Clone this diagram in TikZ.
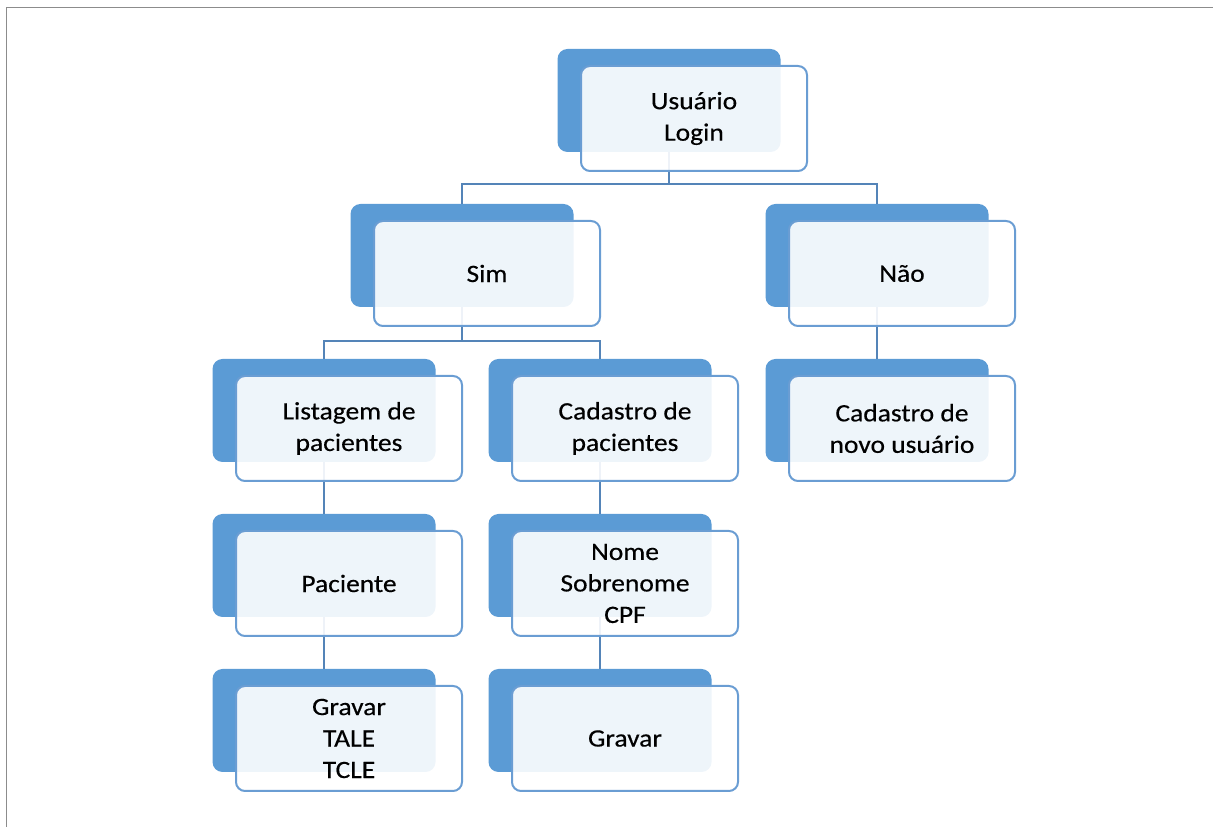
\documentclass[tikz,border=0pt]{standalone}
\usepackage{fontspec}
\setmainfont{Carlito}[FakeStretch=1.1, FakeBold=0.4]
\usepackage{tikz}
\usetikzlibrary{positioning, backgrounds}

\definecolor{backblue}{HTML}{5B9BD5}
\definecolor{edgeblue}{HTML}{6A9DD3}
\definecolor{linkblue}{HTML}{5484B8}
\definecolor{framegray}{HTML}{8C8C8C}

\begin{document}
\begin{tikzpicture}[x=1pt, y=1pt, node distance=155pt, on grid,
  front/.style={draw=edgeblue, line width=2pt, rounded corners=9pt,
    fill=white, fill opacity=0.9, text opacity=1, text=black,
    minimum width=226pt, minimum height=105pt, align=center,
    font=\fontsize{25}{31.5}\selectfont},
  back/.style={fill=backblue, rounded corners=10pt,
    minimum width=223pt, minimum height=103pt},
  link/.style={draw=linkblue, line width=2pt}]

\useasboundingbox (0,0) rectangle (1213,827);
\draw[framegray, line width=1.6pt] (6.5,0) |- (1213,819.5);

\node[front] (usr) at (694,708.5) {Usuário\\Login};
\node[front, below left=155pt and 207pt of usr] (sim) {Sim};
\node[front, below right=155pt and 208pt of usr] (nao) {Não};
\node[front, below left=155pt and 138pt of sim] (lst) {Listagem de\\pacientes};
\node[front, below right=155pt and 138pt of sim] (cad) {Cadastro de\\pacientes};
\node[front, below=of nao] (novo) {Cadastro de\\novo usuário};
\node[front, below=of lst] (pac) {Paciente};
\node[front, below=of cad] (dados) {Nome\\Sobrenome\\CPF};
\node[front, below=of pac] (grv1) {Gravar\\TALE\\TCLE};
\node[front, below=of dados] (grv2) {Gravar};

\begin{scope}[on background layer]
\foreach \n in {usr,sim,nao,lst,cad,novo,pac,dados,grv1,grv2}
  \node[back] (\n-b) at ([shift={(-25pt,18pt)}]\n.center) {};

\path[link]
  (usr-b.south) |- ([yshift=20pt]sim-b.north) -- (sim-b.north)
  (usr-b.south) |- ([yshift=20pt]nao-b.north) -- (nao-b.north)
  (sim-b.south) |- ([yshift=18pt]lst-b.north) -- (lst-b.north)
  (sim-b.south) |- ([yshift=18pt]cad-b.north) -- (cad-b.north)
  (nao-b.south) -- (novo-b.north)
  (lst-b.south) -- (pac-b.north)
  (pac-b.south) -- (grv1-b.north)
  (cad-b.south) -- (dados-b.north)
  (dados-b.south) -- (grv2-b.north);
\end{scope}

\end{tikzpicture}
\end{document}
